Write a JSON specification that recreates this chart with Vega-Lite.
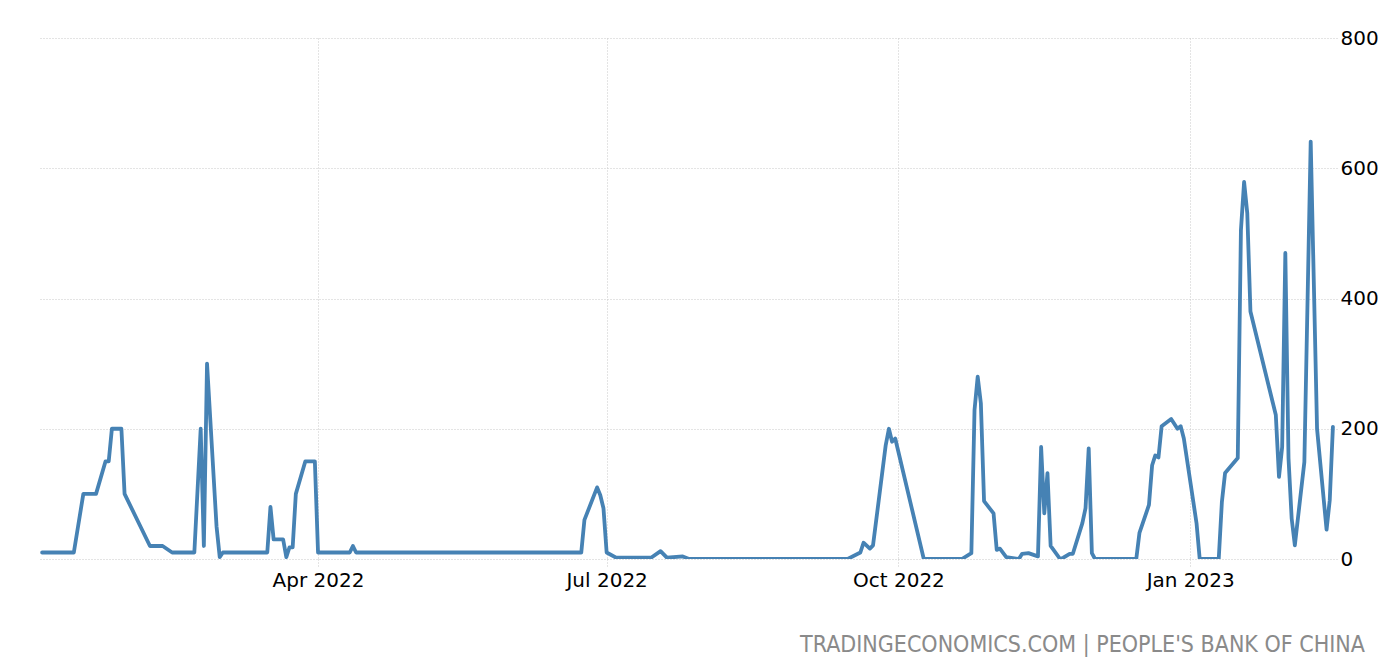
{
  "$schema": "https://vega.github.io/schema/vega-lite/v6.json",
  "width": 1297,
  "height": 521,
  "autosize": {"type": "none"},
  "padding": {"left": 40, "top": 38, "right": 49, "bottom": 103},
  "background": "white",
  "config": {"view": {"stroke": null}},
  "title": {
    "text": "TRADINGECONOMICS.COM | PEOPLE'S BANK OF CHINA",
    "orient": "bottom",
    "anchor": "end",
    "frame": "group",
    "dx": 28,
    "offset": 44,
    "font": "Liberation Sans Narrow, DejaVu Sans Condensed, DejaVu Sans",
    "fontSize": 23,
    "fontWeight": "normal",
    "color": "#8a8a8a"
  },
  "data": {
    "values": [
      {"date": "2022-01-04", "value": 10},
      {"date": "2022-01-14", "value": 10},
      {"date": "2022-01-17", "value": 100},
      {"date": "2022-01-21", "value": 100},
      {"date": "2022-01-24", "value": 150},
      {"date": "2022-01-25", "value": 150},
      {"date": "2022-01-26", "value": 200},
      {"date": "2022-01-29", "value": 200},
      {"date": "2022-01-30", "value": 100},
      {"date": "2022-02-07", "value": 20},
      {"date": "2022-02-11", "value": 20},
      {"date": "2022-02-14", "value": 10},
      {"date": "2022-02-21", "value": 10},
      {"date": "2022-02-23", "value": 200},
      {"date": "2022-02-24", "value": 20},
      {"date": "2022-02-25", "value": 300},
      {"date": "2022-02-28", "value": 50},
      {"date": "2022-03-01", "value": 3},
      {"date": "2022-03-02", "value": 10},
      {"date": "2022-03-16", "value": 10},
      {"date": "2022-03-17", "value": 80},
      {"date": "2022-03-18", "value": 30},
      {"date": "2022-03-21", "value": 30},
      {"date": "2022-03-22", "value": 3},
      {"date": "2022-03-23", "value": 18},
      {"date": "2022-03-24", "value": 18},
      {"date": "2022-03-25", "value": 100},
      {"date": "2022-03-28", "value": 150},
      {"date": "2022-03-31", "value": 150},
      {"date": "2022-04-01", "value": 10},
      {"date": "2022-04-11", "value": 10},
      {"date": "2022-04-12", "value": 20},
      {"date": "2022-04-13", "value": 10},
      {"date": "2022-06-23", "value": 10},
      {"date": "2022-06-24", "value": 60},
      {"date": "2022-06-28", "value": 110},
      {"date": "2022-06-29", "value": 98},
      {"date": "2022-06-30", "value": 78},
      {"date": "2022-07-01", "value": 10},
      {"date": "2022-07-04", "value": 2},
      {"date": "2022-07-15", "value": 2},
      {"date": "2022-07-18", "value": 12},
      {"date": "2022-07-20", "value": 2},
      {"date": "2022-07-25", "value": 4},
      {"date": "2022-07-27", "value": 0},
      {"date": "2022-09-15", "value": 0},
      {"date": "2022-09-19", "value": 10},
      {"date": "2022-09-20", "value": 25},
      {"date": "2022-09-22", "value": 16},
      {"date": "2022-09-23", "value": 21},
      {"date": "2022-09-27", "value": 175},
      {"date": "2022-09-28", "value": 200},
      {"date": "2022-09-29", "value": 180},
      {"date": "2022-09-30", "value": 185},
      {"date": "2022-10-09", "value": 0},
      {"date": "2022-10-21", "value": 0},
      {"date": "2022-10-24", "value": 9},
      {"date": "2022-10-25", "value": 229},
      {"date": "2022-10-26", "value": 280},
      {"date": "2022-10-27", "value": 239},
      {"date": "2022-10-28", "value": 89},
      {"date": "2022-10-31", "value": 70},
      {"date": "2022-11-01", "value": 14},
      {"date": "2022-11-02", "value": 16},
      {"date": "2022-11-04", "value": 3},
      {"date": "2022-11-08", "value": 0},
      {"date": "2022-11-09", "value": 8},
      {"date": "2022-11-11", "value": 9},
      {"date": "2022-11-14", "value": 4},
      {"date": "2022-11-15", "value": 172},
      {"date": "2022-11-16", "value": 70},
      {"date": "2022-11-17", "value": 132},
      {"date": "2022-11-18", "value": 20},
      {"date": "2022-11-21", "value": 0},
      {"date": "2022-11-22", "value": 2},
      {"date": "2022-11-24", "value": 8},
      {"date": "2022-11-25", "value": 8},
      {"date": "2022-11-28", "value": 55},
      {"date": "2022-11-29", "value": 78},
      {"date": "2022-11-30", "value": 170},
      {"date": "2022-12-01", "value": 9},
      {"date": "2022-12-02", "value": 0},
      {"date": "2022-12-15", "value": 0},
      {"date": "2022-12-16", "value": 40},
      {"date": "2022-12-19", "value": 83},
      {"date": "2022-12-20", "value": 144},
      {"date": "2022-12-21", "value": 159},
      {"date": "2022-12-22", "value": 156},
      {"date": "2022-12-23", "value": 204},
      {"date": "2022-12-26", "value": 215},
      {"date": "2022-12-28", "value": 200},
      {"date": "2022-12-29", "value": 204},
      {"date": "2022-12-30", "value": 185},
      {"date": "2023-01-03", "value": 55},
      {"date": "2023-01-04", "value": 0},
      {"date": "2023-01-10", "value": 0},
      {"date": "2023-01-11", "value": 88},
      {"date": "2023-01-12", "value": 132},
      {"date": "2023-01-16", "value": 155},
      {"date": "2023-01-17", "value": 505},
      {"date": "2023-01-18", "value": 579},
      {"date": "2023-01-19", "value": 531},
      {"date": "2023-01-20", "value": 380},
      {"date": "2023-01-28", "value": 221},
      {"date": "2023-01-29", "value": 126},
      {"date": "2023-01-30", "value": 172},
      {"date": "2023-01-31", "value": 470},
      {"date": "2023-02-01", "value": 155},
      {"date": "2023-02-02", "value": 62},
      {"date": "2023-02-03", "value": 21},
      {"date": "2023-02-06", "value": 149},
      {"date": "2023-02-08", "value": 641},
      {"date": "2023-02-10", "value": 200},
      {"date": "2023-02-13", "value": 45},
      {"date": "2023-02-14", "value": 90},
      {"date": "2023-02-15", "value": 203}
    ]
  },
  "mark": {"type": "line", "color": "#4682b4", "strokeWidth": 3.8, "strokeJoin": "round", "strokeCap": "round", "clip": true},
  "encoding": {
    "x": {
      "field": "date",
      "type": "temporal",
      "scale": {
        "type": "utc",
        "domain": [
          {"year": 2022, "month": 1, "date": 3, "hours": 8, "utc": true},
          {"year": 2023, "month": 2, "date": 16, "hours": 7, "utc": true}
        ]
      },
      "axis": {
        "title": null,
        "tickCount": {"interval": "month", "step": 3},
        "labelExpr": "utcFormat(datum.value, '%b %Y')",
        "domain": false,
        "grid": true,
        "gridColor": "#c8c8c8",
        "gridDash": [1, 2],
        "gridWidth": 1,
        "ticks": true,
        "tickSize": 8,
        "tickColor": "#c8c8c8",
        "tickDash": [1, 2],
        "labelFont": "DejaVu Sans",
        "labelFontSize": 20,
        "labelColor": "#000000",
        "labelPadding": 3,
        "labelFlush": false
      }
    },
    "y": {
      "field": "value",
      "type": "quantitative",
      "scale": {"domain": [0, 800], "nice": false, "zero": true},
      "axis": {
        "title": null,
        "orient": "right",
        "values": [0, 200, 400, 600, 800],
        "domain": false,
        "ticks": false,
        "grid": true,
        "gridColor": "#c8c8c8",
        "gridDash": [1, 2],
        "gridWidth": 1,
        "labelFont": "DejaVu Sans",
        "labelFontSize": 20,
        "labelColor": "#000000",
        "labelPadding": 3
      }
    }
  }
}
